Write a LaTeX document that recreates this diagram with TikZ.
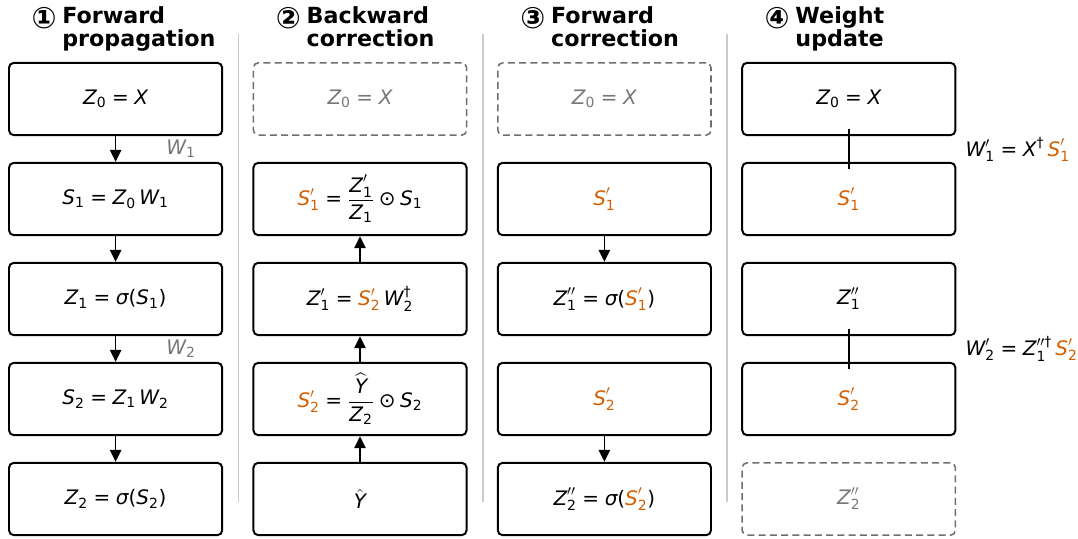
\documentclass[tikz,border=0pt]{standalone}
\usepackage{amsmath,amssymb}
\usepackage{fontspec}
\setmainfont{DejaVu Sans}
\usepackage{tikz}
\usepackage{xcolor}
\usetikzlibrary{arrows.meta,positioning}

\definecolor{accent}{HTML}{D55E00}
\definecolor{faint}{HTML}{777777}
\definecolor{ghostline}{HTML}{6E6E6E}
\definecolor{sepgray}{HTML}{CCCCCC}

\newcommand{\boxfont}{\fontsize{14.2}{17}\selectfont}
\newcommand{\ttlfont}{\fontsize{15.8}{16.35}\selectfont\bfseries}
\newcommand{\numfont}{\fontsize{21}{21}\selectfont\bfseries}
\newcommand{\mv}[1]{\textit{#1}}
\newcommand{\mt}[1]{\text{#1}}
\newcommand{\hl}[1]{\textcolor{accent}{#1}}
\newcommand{\eqs}{\mathrel{\mt{=}}}

\begin{document}
\begin{tikzpicture}[
    >={Triangle[length=8.5pt,width=8pt]},
    box/.style={draw,rounded corners=3.5pt,line width=1.4pt,minimum width=5.33cm,
      minimum height=1.81cm,inner sep=0pt,font=\boxfont},
    ghost/.style={box,draw=ghostline,line width=1.1pt,dash pattern=on 5pt off 3pt,text=faint},
    flow/.style={->,line width=1.2pt},
    link/.style={line width=1.2pt},
    wlab/.style={inner sep=0pt,font=\boxfont},
    ttl/.style={inner sep=0pt,align=left,anchor=north west,font=\ttlfont},
    num/.style={inner sep=0pt,anchor=center,font=\numfont},
    sep/.style={draw=sepgray,line width=1pt}]
  \useasboundingbox (0,0) rectangle (26.95,13.475);

  % ---- titles ----
  \node[num] (n1) at (1.10,13.03) {①};
  \node[ttl] (t1) at (1.55,13.31) {Forward\\propagation};
  \node[num] (n2) at (7.21,13.03) {②};
  \node[ttl] (t2) at (7.66,13.31) {Backward\\correction};
  \node[num] (n3) at (13.32,13.03) {③};
  \node[ttl] (t3) at (13.77,13.31) {Forward\\correction};
  \node[num] (n4) at (19.43,13.03) {④};
  \node[ttl] (t4) at (19.88,13.31) {Weight\\update};

  % ---- separators ----
  \draw[sep] (5.96,0.925) -- (5.96,12.625);
  \draw[sep] (12.07,0.925) -- (12.07,12.625);
  \draw[sep] (18.17,0.925) -- (18.17,12.625);

  % ---- 1: forward propagation ----
  \node[box] (fz0) at (2.89,11.0) {$\mv{Z}_{\mt{0}}\eqs\mv{X}$};
  \node[box] (fs1) at (2.89,8.5) {$\mv{S}_{\mt{1}}\eqs\mv{Z}_{\mt{0}}\,\mv{W}_{\mt{1}}$};
  \node[box] (fz1) at (2.89,6.0) {$\mv{Z}_{\mt{1}}\eqs\mv{σ}\mt{(}\mv{S}_{\mt{1}}\mt{)}$};
  \node[box] (fs2) at (2.89,3.5) {$\mv{S}_{\mt{2}}\eqs\mv{Z}_{\mt{1}}\,\mv{W}_{\mt{2}}$};
  \node[box] (fz2) at (2.89,1.0) {$\mv{Z}_{\mt{2}}\eqs\mv{σ}\mt{(}\mv{S}_{\mt{2}}\mt{)}$};
  \draw[flow] (fz0) -- node[wlab,text=faint,right=1.25cm] {$\mv{W}_{\mt{1}}$} (fs1);
  \draw[flow] (fs1) -- (fz1);
  \draw[flow] (fz1) -- node[wlab,text=faint,right=1.25cm] {$\mv{W}_{\mt{2}}$} (fs2);
  \draw[flow] (fs2) -- (fz2);

  % ---- 2: backward correction ----
  \node[ghost] (bz0) at (9.0,11.0) {$\mv{Z}_{\mt{0}}\eqs\mv{X}$};
  \node[box] (bs1) at (9.0,8.5)
    {$\hl{\mv{S}'_{\mt{1}}}\eqs\dfrac{\mv{Z}'_{\mt{1}}}{\mv{Z}_{\mt{1}}}\mathbin{\mt{⊙}}\mv{S}_{\mt{1}}$};
  \node[box] (bz1) at (9.0,6.0)
    {$\mv{Z}'_{\mt{1}}\eqs\hl{\mv{S}'_{\mt{2}}}\,\mv{W}^{\mt{†}}_{\mt{2}}$};
  \node[box] (bs2) at (9.0,3.5)
    {$\hl{\mv{S}'_{\mt{2}}}\eqs\dfrac{\widehat{\mv{Y}}}{\mv{Z}_{\mt{2}}}\mathbin{\mt{⊙}}\mv{S}_{\mt{2}}$};
  \node[box] (by) at (9.0,1.0) {$\hat{\mv{Y}}$};
  \draw[flow] (by) -- (bs2);
  \draw[flow] (bs2) -- (bz1);
  \draw[flow] (bz1) -- (bs1);

  % ---- 3: forward correction ----
  \node[ghost] (cz0) at (15.11,11.0) {$\mv{Z}_{\mt{0}}\eqs\mv{X}$};
  \node[box] (cs1) at (15.11,8.5) {$\hl{\mv{S}'_{\mt{1}}}$};
  \node[box] (cz1) at (15.11,6.0)
    {$\mv{Z}''_{\mt{1}}\eqs\mv{σ}\mt{(}\hl{\mv{S}'_{\mt{1}}}\mt{)}$};
  \node[box] (cs2) at (15.11,3.5) {$\hl{\mv{S}'_{\mt{2}}}$};
  \node[box] (cz2) at (15.11,1.0)
    {$\mv{Z}''_{\mt{2}}\eqs\mv{σ}\mt{(}\hl{\mv{S}'_{\mt{2}}}\mt{)}$};
  \draw[flow] (cs1) -- (cz1);
  \draw[flow] (cs2) -- (cz2);

  % ---- 4: weight update ----
  \node[box] (wz0) at (21.22,11.0) {$\mv{Z}_{\mt{0}}\eqs\mv{X}$};
  \node[box] (ws1) at (21.22,8.5) {$\hl{\mv{S}'_{\mt{1}}}$};
  \node[box] (wz1) at (21.22,6.0) {$\mv{Z}''_{\mt{1}}$};
  \node[box] (ws2) at (21.22,3.5) {$\hl{\mv{S}'_{\mt{2}}}$};
  \node[ghost] (wz2) at (21.22,1.0) {$\mv{Z}''_{\mt{2}}$};
  \draw[link] ([yshift=0.18cm]wz0.south) -- node[wlab,right=2.9cm]
    {$\mv{W}'_{\mt{1}}\eqs\mv{X}^{\mt{†}}\,\hl{\mv{S}'_{\mt{1}}}$} ([yshift=-0.18cm]ws1.north);
  \draw[link] ([yshift=0.18cm]wz1.south) -- node[wlab,right=2.9cm]
    {$\mv{W}'_{\mt{2}}\eqs\mv{Z}^{\prime\prime\mt{†}}_{\mt{1}}\,\hl{\mv{S}'_{\mt{2}}}$} ([yshift=-0.18cm]ws2.north);
\end{tikzpicture}
\end{document}
